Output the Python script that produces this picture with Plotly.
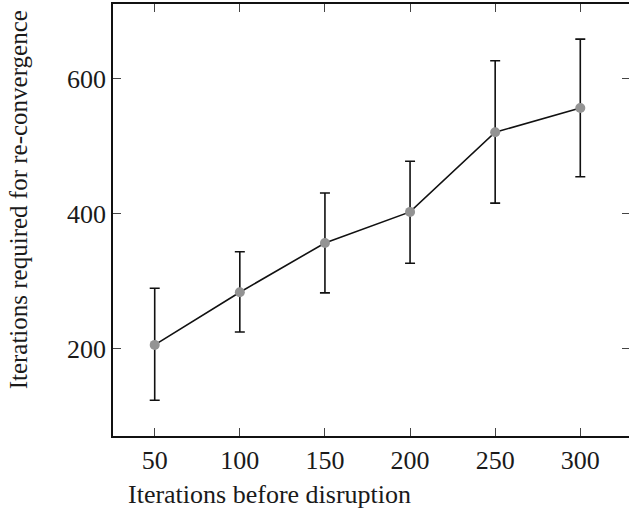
import plotly.graph_objects as go

iterations_before = [50, 100, 150, 200, 250, 300]
reconvergence_mean = [206, 284, 357, 403, 521, 557]
err_upper = [290, 344, 431, 478, 627, 659]
err_lower = [124, 225, 283, 327, 416, 455]
x_ticks = [50, 100, 150, 200, 250, 300]
y_ticks = [200, 400, 600]

plus = [u - m for u, m in zip(err_upper, reconvergence_mean)]
minus = [m - l for m, l in zip(reconvergence_mean, err_lower)]

FONT = "Liberation Serif"

fig = go.Figure()
fig.add_trace(go.Scatter(
    x=iterations_before, y=reconvergence_mean,
    mode="lines+markers",
    line=dict(color="#111111", width=1.6),
    marker=dict(size=10, color="#939393", line=dict(width=0)),
    error_y=dict(type="data", symmetric=False, array=plus, arrayminus=minus,
                 color="#111111", thickness=1.6, width=5),
    showlegend=False,
))

W, H = 632, 509
L, R, T, B = 113, 0, 4, 73
pw = W - L - R
ph = H - T - B

fig.update_layout(
    width=W, height=H,
    margin=dict(l=L, r=R, t=T, b=B),
    paper_bgcolor="white", plot_bgcolor="white",
    font=dict(family=FONT, size=26, color="#1a1a1a"),
    xaxis=dict(range=[25.5, 329.2], tickvals=x_ticks, ticks="inside", ticklen=8,
               tickwidth=1, tickcolor="#444", showline=True, linecolor="#111",
               linewidth=1.6, mirror="ticks", showgrid=False, zeroline=False,
               tickfont=dict(family=FONT, size=26)),
    yaxis=dict(range=[71, 711], tickvals=y_ticks, ticks="inside", ticklen=8,
               tickwidth=1, tickcolor="#444", showline=True, linecolor="#111",
               linewidth=1.6, mirror="ticks", showgrid=False, zeroline=False,
               tickfont=dict(family=FONT, size=26)),
    annotations=[
        dict(text="Iterations before disruption", xref="paper", yref="paper",
             x=(270 - L) / pw, y=(H - B - 495) / ph, xanchor="center", yanchor="middle",
             showarrow=False, font=dict(family=FONT, size=26)),
        dict(text="Iterations required for re-convergence", xref="paper", yref="paper",
             x=(18 - L) / pw, y=(H - B - 200) / ph, xanchor="center", yanchor="middle",
             textangle=-90, showarrow=False, font=dict(family=FONT, size=25)),
    ],
)

fig.write_html("out.html", config={"displayModeBar": False},
               post_script="document.body.style.margin='0';document.body.style.overflow='hidden';")
